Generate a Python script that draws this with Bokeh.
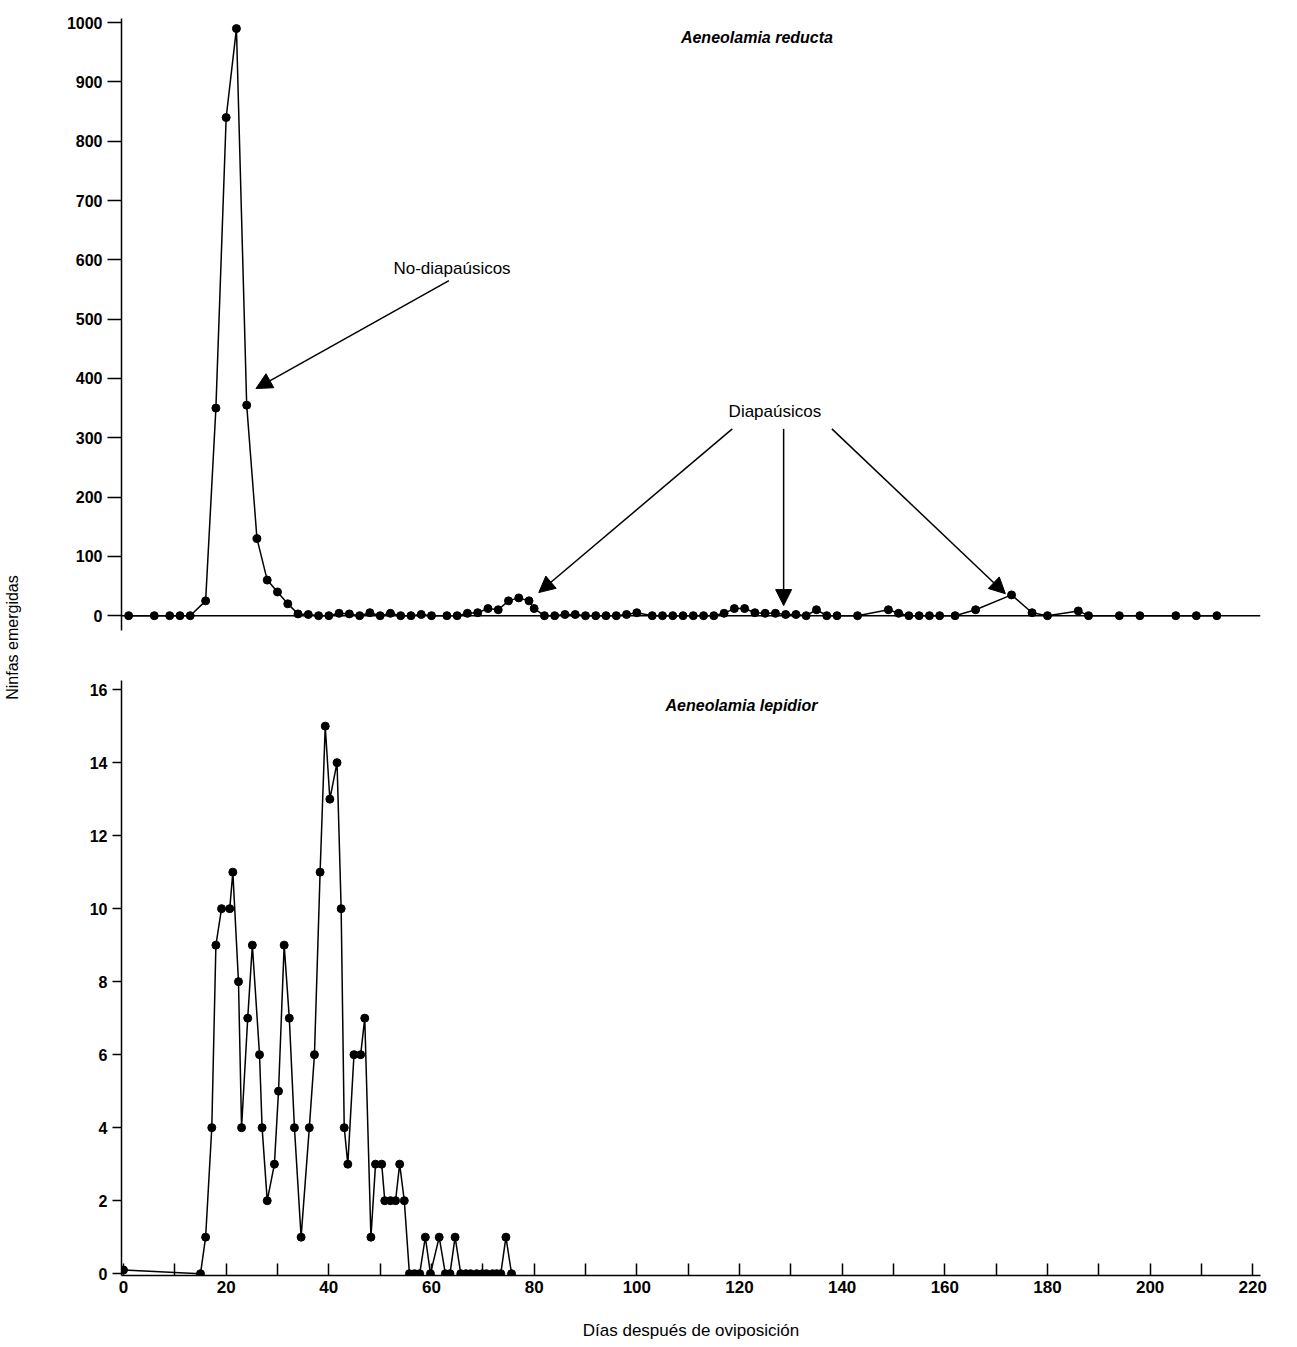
from bokeh.plotting import figure
from bokeh.models import Arrow, NormalHead, FixedTicker, Span
from bokeh.layouts import row, column
from bokeh.core.properties import value
from bokeh.embed import file_html
from bokeh.resources import INLINE

reducta_days = [1,6,9,11,13,16,18,20,22,24,26,28,30,32,34,36,38,40,42,44,46,48,50,52,54,56,58,60,63,65,67,69,71,73,75,77,79,80,82,84,86,88,90,92,94,96,98,100,103,105,107,109,111,113,115,117,119,121,123,125,127,129,131,133,135,137,139,143,149,151,153,155,157,159,162,166,173,177,180,186,188,194,198,205,209,213]
reducta_vals = [0,0,0,0,0,25,350,840,990,355,130,60,40,20,3,2,0,0,4,3,0,5,0,4,0,0,2,0,0,0,4,5,12,10,25,30,25,12,0,0,2,2,0,0,0,0,2,5,0,0,0,0,0,0,0,4,12,12,5,4,4,2,2,0,10,0,0,0,10,4,0,0,0,0,0,10,35,5,0,8,0,0,0,0,0,0]
lepidior_days = [0,15,16,17.2,18,19.1,20.7,21.3,22.4,23,24.2,25.1,26.5,27,28,29.4,30.2,31.3,32.3,33.3,34.6,36.2,37.2,38.3,39.3,40.2,41.6,42.4,43,43.7,44.9,46.2,47,48.2,49.1,50.3,50.9,52,53,53.8,54.7,55.7,56.7,57.7,58.8,59.8,61.5,62.7,63.6,64.6,65.7,66.7,67.6,68.8,69.9,70.7,71.9,72.7,73.5,74.5,75.6]
lepidior_vals = [0.1,0,1,4,9,10,10,11,8,4,7,9,6,4,2,3,5,9,7,4,1,4,6,11,15,13,14,10,4,3,6,6,7,1,3,3,2,2,2,3,2,0,0,0,1,0,1,0,0,1,0,0,0,0,0,0,0,0,0,1,0]
reducta_yticks = [0,100,200,300,400,500,600,700,800,900,1000]
lepidior_yticks = [0,2,4,6,8,10,12,14,16]
x_ticks = [0,20,40,60,80,100,120,140,160,180,200,220]
x_minor = [10,30,50,70,90,110,130,150,170,190,210]

FONT = "Liberation Sans"

def style(p):
    p.outline_line_color = None
    p.grid.visible = False
    p.background_fill_color = "white"
    p.border_fill_color = "white"
    for ax in p.axis:
        ax.axis_line_color = "black"
        ax.axis_line_width = 1.5
        ax.major_tick_line_width = 1.5
        ax.minor_tick_line_width = 1.5
        ax.major_label_text_font = FONT
        ax.major_label_text_font_style = "bold"
        ax.major_label_text_font_size = "16px"
        ax.major_label_text_color = "black"

p1 = figure(width=1242, height=650, x_range=(-0.39, 221.5), y_range=(-25, 1007),
            output_backend="svg", toolbar_location=None,
            min_border_left=91, min_border_right=12, min_border_top=18, min_border_bottom=20)
p1.xaxis.visible = False
style(p1)
p1.yaxis.ticker = FixedTicker(ticks=reducta_yticks)
p1.yaxis.major_tick_out = 14
p1.yaxis.major_tick_in = 0
p1.yaxis.minor_tick_out = 0
p1.add_layout(Span(location=0, dimension="width", line_color="black", line_width=1.5))
p1.line(reducta_days, reducta_vals, line_color="black", line_width=1.5)
p1.scatter(reducta_days, reducta_vals, size=8, color="black")
p1.text([123.4], [975], text=["Aeneolamia reducta"], text_font=value(FONT), text_font_style="bold italic",
        text_font_size="16px", text_align="center", text_baseline="middle")
p1.text([64], [585], text=["No-diapaúsicos"], text_font=value(FONT), text_font_size="17px",
        text_align="center", text_baseline="middle")
p1.text([126.9], [344], text=["Diapaúsicos"], text_font=value(FONT), text_font_size="17px",
        text_align="center", text_baseline="middle")
for (xs, ys, xe, ye) in [(63.4, 565, 25.8, 383), (118.6, 315, 80.9, 39), (128.6, 315, 128.6, 17), (138, 315, 171.8, 37)]:
    p1.add_layout(Arrow(end=NormalHead(size=16, fill_color="black", line_color="black"),
                        x_start=xs, y_start=ys, x_end=xe, y_end=ye, line_width=1.5))

p2 = figure(width=1242, height=692, x_range=(-0.39, 221.5), y_range=(-0.05, 16.25),
            output_backend="svg", toolbar_location=None,
            min_border_left=91, min_border_right=12, min_border_top=30, min_border_bottom=50)
style(p2)
p2.yaxis.ticker = FixedTicker(ticks=lepidior_yticks)
p2.yaxis.major_tick_out = 9
p2.yaxis.major_tick_in = 0
p2.yaxis.minor_tick_out = 0
p2.xaxis.ticker = FixedTicker(ticks=x_ticks, minor_ticks=x_minor)
p2.xaxis.major_tick_in = 12
p2.xaxis.major_tick_out = 0
p2.xaxis.minor_tick_in = 12
p2.xaxis.minor_tick_out = 0
p2.xaxis.axis_label = "Días después de oviposición"
p2.xaxis.axis_label_text_font = FONT
p2.xaxis.axis_label_text_font_style = "normal"
p2.xaxis.axis_label_text_font_size = "17px"
p2.xaxis.axis_label_text_color = "black"
p2.xaxis.axis_label_standoff = 25
p2.xaxis.major_label_text_font_size = "17px"
p2.line(lepidior_days, lepidior_vals, line_color="black", line_width=1.5)
p2.scatter(lepidior_days, lepidior_vals, size=8, color="black")
p2.text([120.4], [15.57], text=["Aeneolamia lepidior"], text_font=value(FONT), text_font_style="bold italic",
        text_font_size="16px", text_align="center", text_baseline="middle")

lab = figure(width=30, height=1342, x_range=(0, 30), y_range=(0, 1342), output_backend="svg",
             toolbar_location=None, min_border=0)
lab.axis.visible = False
lab.grid.visible = False
lab.outline_line_color = None
lab.text([12], [1342 - 637], text=["Ninfas emergidas"], angle=1.5708, text_font=value(FONT),
         text_font_size="16px", text_align="center", text_baseline="middle")

layout = row(lab, column(p1, p2, spacing=0), spacing=0)
open("out.html", "w").write(file_html(layout, INLINE))
